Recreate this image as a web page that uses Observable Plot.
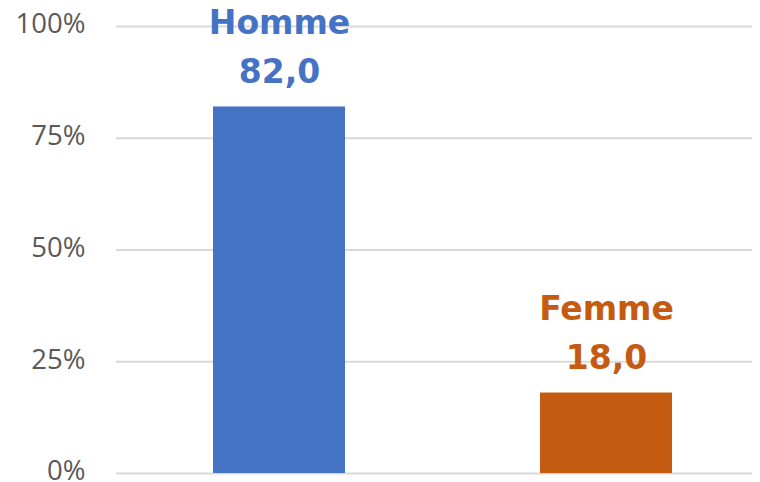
<!DOCTYPE html>
<html><head><meta charset="utf-8">
<script src="https://cdn.jsdelivr.net/npm/d3@7"></script>
<script src="https://cdn.jsdelivr.net/npm/@observablehq/plot@0.6"></script>
<style>
body{margin:0;background:#fff;}
</style>
</head><body>
<div id="chart"></div>
<script>
const categories = ["Homme", "Femme"];
const values = [82.0, 18.0];
const colors = ["#4472C4", "#C55A11"];
const yTicks = [0, 25, 50, 75, 100];

const data = categories.map((c, i) => ({cat: c, value: values[i], color: colors[i], label: values[i].toFixed(1).replace(".", ",")}));

const chart = Plot.plot({
  width: 760,
  height: 482,
  marginLeft: 116,
  marginRight: 8,
  marginTop: 26,
  marginBottom: 9,
  style: {fontFamily: "'Open Sans', sans-serif", background: "#fff", overflow: "visible"},
  x: {domain: categories, range: [116, 770], paddingInner: 0.596, paddingOuter: 0.298, axis: null},
  y: {domain: [0, 100], axis: null},
  marks: [
    Plot.ruleY(yTicks, {stroke: "#d9d9d9", strokeWidth: 2}),
    Plot.text(yTicks, {y: d => d, text: d => d + "%", frameAnchor: "left", textAnchor: "end", dx: -31, dy: -2, fontSize: 27.5, fill: "#595959", fontFamily: "'Open Sans', sans-serif"}),
    Plot.barY(data, {x: "cat", y: "value", fill: "color"}),
    Plot.text(data, {x: "cat", y: "value", text: "label", fill: "color", dy: -35, fontSize: 33, fontWeight: "bold", fontFamily: "'DejaVu Sans', sans-serif"}),
    Plot.text(data, {x: "cat", y: "value", text: "cat", fill: "color", dy: -84, fontSize: 33, fontWeight: "bold", fontFamily: "'DejaVu Sans', sans-serif"})
  ]
});
document.getElementById("chart").appendChild(chart);
</script>
</body></html>
